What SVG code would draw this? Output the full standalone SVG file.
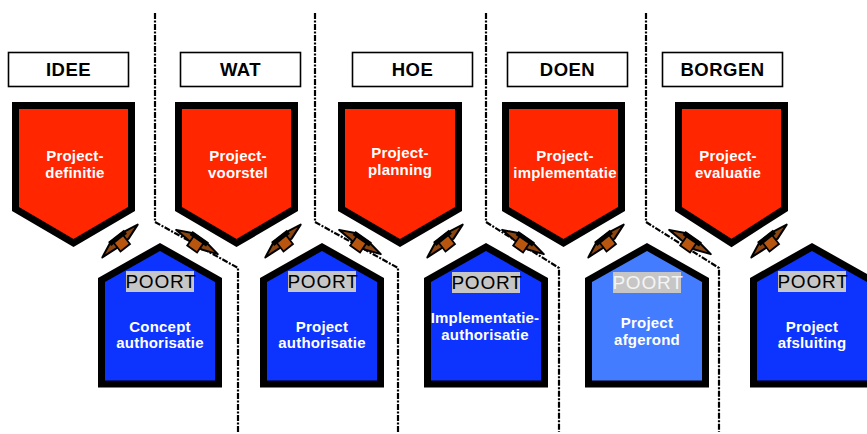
<svg xmlns="http://www.w3.org/2000/svg" width="867" height="434" viewBox="0 0 867 434">
<defs>
<style>
.lbl{fill:#fff;stroke:#000;stroke-width:1.6}
.lbltxt{font-family:"Liberation Sans",Arial,sans-serif;font-weight:bold;font-size:18.5px;fill:#000;text-anchor:middle;letter-spacing:0.5px}
.red{fill:#FF2600;stroke:#000;stroke-width:7;stroke-linejoin:miter}
.blue{fill:#0D33FF;stroke:#000;stroke-width:7;stroke-linejoin:miter}
.lblue{fill:#437CFF;stroke:#000;stroke-width:7;stroke-linejoin:miter}
.wt{font-family:"Liberation Sans",Arial,sans-serif;font-weight:bold;font-size:15px;fill:#fff;text-anchor:middle;letter-spacing:0.2px}
.pbox{fill:#C6C6C6}
.pt{font-family:"Liberation Sans",Arial,sans-serif;font-size:19px;fill:#000;text-anchor:middle;letter-spacing:0.8px}
.dash{fill:none;stroke:#000;stroke-width:2.2;stroke-dasharray:6 1.5 2 1.5}
</style>
<g id="bolt">
<path d="M-24,2 L-8,-5 L8,-5 L24,-2 L8,3.5 L-8,3.5 Z" fill="#8A4510" stroke="#000" stroke-width="2" stroke-linejoin="round"/>
<rect x="-10" y="-6.5" width="20" height="5" fill="#000"/>
<rect x="-6" y="-2.5" width="12" height="11" fill="#B8560F" stroke="#000" stroke-width="1.8"/>
</g>
</defs>
<rect width="867" height="434" fill="#fff"/>

<g id="connectors">
<path class="dash" d="M155,13 L155,222 L238,268 L238,432"/>
<path class="dash" d="M315,13 L315,222 L398,268 L398,432"/>
<path class="dash" d="M486,13 L486,222 L559,268 L559,432"/>
<path class="dash" d="M646,13 L646,222 L719,268 L719,432"/>
<use href="#bolt" transform="translate(120,241) rotate(-38)"/>
<use href="#bolt" transform="translate(283,241) rotate(-38)"/>
<use href="#bolt" transform="translate(445,241) rotate(-38)"/>
<use href="#bolt" transform="translate(606,241) rotate(-38)"/>
<use href="#bolt" transform="translate(769,241) rotate(-38)"/>
<use href="#bolt" transform="translate(197,242) rotate(35)"/>
<use href="#bolt" transform="translate(360,242) rotate(35)"/>
<use href="#bolt" transform="translate(523,242) rotate(35)"/>
<use href="#bolt" transform="translate(690,242) rotate(35)"/>
</g>

<g id="label-idee"><rect class="lbl" x="8.5" y="52.5" width="120" height="34"/><text class="lbltxt" x="68.5" y="76">IDEE</text></g>
<g id="label-wat"><rect class="lbl" x="180.5" y="52.5" width="120" height="34"/><text class="lbltxt" x="240.5" y="76">WAT</text></g>
<g id="label-hoe"><rect class="lbl" x="352.5" y="52.5" width="120" height="34"/><text class="lbltxt" x="412.5" y="76">HOE</text></g>
<g id="label-doen"><rect class="lbl" x="507.5" y="52.5" width="120" height="34"/><text class="lbltxt" x="567.5" y="76">DOEN</text></g>
<g id="label-borgen"><rect class="lbl" x="662.5" y="52.5" width="120" height="34"/><text class="lbltxt" x="722.5" y="76">BORGEN</text></g>

<g id="fase-idee"><path class="red" d="M15.5,105.5 L131.5,105.5 L131.5,209 L73.5,243 L15.5,209 Z"/><text class="wt" x="75" y="161">Project-</text><text class="wt" x="75" y="178">definitie</text></g>
<g id="fase-wat"><path class="red" d="M178.5,105.5 L294.5,105.5 L294.5,209 L236.5,243 L178.5,209 Z"/><text class="wt" x="238" y="161">Project-</text><text class="wt" x="238" y="178">voorstel</text></g>
<g id="fase-hoe"><path class="red" d="M341.5,105.5 L458.5,105.5 L458.5,209 L400,243 L341.5,209 Z"/><text class="wt" x="400" y="158">Project-</text><text class="wt" x="400" y="175">planning</text></g>
<g id="fase-doen"><path class="red" d="M505.5,105.5 L621.5,105.5 L621.5,209 L563.5,243 L505.5,209 Z"/><text class="wt" x="565" y="161">Project-</text><text class="wt" x="565" y="178">implementatie</text></g>
<g id="fase-borgen"><path class="red" d="M678.5,105.5 L784.5,105.5 L784.5,209 L731.5,243 L678.5,209 Z"/><text class="wt" x="728" y="161">Project-</text><text class="wt" x="728" y="178">evaluatie</text></g>

<g id="poort-concept"><path class="blue" d="M101.5,384 L101.5,280 L160,247 L218.5,280 L218.5,384 Z"/><rect class="pbox" x="126" y="271" width="68" height="21"/><text class="pt" x="161" y="288">POORT</text><text class="wt" x="160" y="332">Concept</text><text class="wt" x="160" y="348">authorisatie</text></g>
<g id="poort-project"><path class="blue" d="M263.5,384 L263.5,280 L322,247 L380.5,280 L380.5,384 Z"/><rect class="pbox" x="288" y="271" width="68" height="21"/><text class="pt" x="323" y="288">POORT</text><text class="wt" x="322" y="332">Project</text><text class="wt" x="322" y="348">authorisatie</text></g>
<g id="poort-implementatie"><path class="blue" d="M427.5,384 L427.5,280 L486,247 L544.5,280 L544.5,384 Z"/><rect class="pbox" x="452" y="272" width="68" height="21"/><text class="pt" x="487" y="289">POORT</text><text class="wt" x="485" y="323">Implementatie-</text><text class="wt" x="485" y="340">authorisatie</text></g>
<g id="poort-afgerond"><path class="lblue" d="M588.5,384 L588.5,280 L647,247 L705.5,280 L705.5,384 Z"/><rect class="pbox" x="613" y="272" width="68" height="21"/><text class="pt" x="648" y="289" style="fill:#F4F4F4">POORT</text><text class="wt" x="647" y="328">Project</text><text class="wt" x="647" y="345">afgerond</text></g>
<g id="poort-afsluiting"><path class="blue" d="M753.5,384 L753.5,280 L812,247 L870.5,280 L870.5,384 Z"/><rect class="pbox" x="778" y="271" width="68" height="21"/><text class="pt" x="813" y="288">POORT</text><text class="wt" x="812" y="332">Project</text><text class="wt" x="812" y="348">afsluiting</text></g>
</svg>
